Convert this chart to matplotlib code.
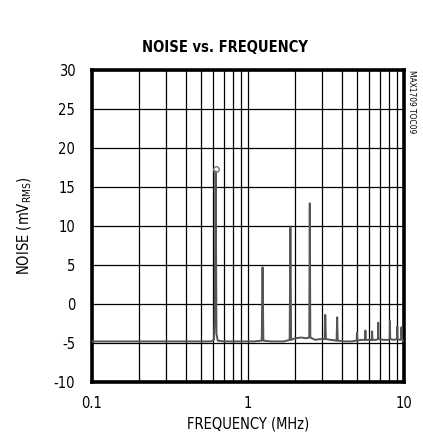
import matplotlib
matplotlib.use('Agg')
import matplotlib.pyplot as plt
from matplotlib.ticker import FixedLocator, NullFormatter
import numpy as np

plt.rcParams['font.family'] = ['Liberation Sans Narrow', 'DejaVu Sans']
plt.rcParams['font.stretch'] = 'condensed'
plt.rcParams['axes.unicode_minus'] = False
plt.rcParams['mathtext.fontset'] = 'custom'
plt.rcParams['mathtext.rm'] = 'DejaVu Sans:stretch=condensed'

# frequency (MHz) and noise (mVrms)
freq = [0.1, 0.2, 0.4, 0.58, 0.605, 0.612, 0.617, 0.62, 0.623, 0.628, 0.64, 0.7,
        0.9, 1.1, 1.225, 1.24, 1.255, 1.4, 1.7, 1.85, 1.87, 1.89, 2.0, 2.2,
        2.35, 2.47, 2.49, 2.51, 2.7, 2.9, 3.1, 3.13, 3.16, 3.4, 3.7, 3.73, 3.76,
        4.2, 4.6, 4.97, 5.0, 5.03, 5.3, 5.63, 5.66, 5.69, 6.0, 6.22, 6.25, 6.28,
        6.6, 6.81, 6.84, 6.87, 7.4, 7.9, 8.1, 8.13, 8.16, 8.6, 9.03, 9.06, 9.09,
        9.4, 9.6, 9.63, 9.7, 10.0]
noise = [-4.8, -4.8, -4.8, -4.8, -4.6, -2.0, 10.0, 17.0, 10.0, -3.8, -4.7, -4.8,
         -4.8, -4.8, -4.7, 4.7, -4.7, -4.8, -4.8, -4.6, 9.8, -4.6, -4.4, -4.3,
         -4.4, -4.3, 12.9, -4.3, -4.6, -4.5, -4.5, -1.4, -4.5, -4.6, -4.7, -1.7, -4.7,
         -4.8, -4.8, -4.7, -3.7, -4.7, -4.6, -4.6, -3.4, -4.6, -4.6, -4.6, -3.5, -4.6,
         -4.6, -4.5, -2.4, -4.5, -4.6, -4.6, -4.5, -2.2, -4.5, -4.6, -4.5, -2.9, -4.5,
         -4.6, -4.5, -3.0, -4.6, -4.7]

peak_marker = (0.62, 17.3)

yticks = [30, 25, 20, 15, 10, 5, 0, -5, -10]
xticks = [0.1, 1, 10]
xlabels = ['0.1', '1', '10']

fig = plt.figure(figsize=(4.23, 4.36), dpi=100)
ax = fig.add_axes([0.2175, 0.1239, 0.7375, 0.7155])

ax.plot(freq, noise, color='#555555', lw=1.4, zorder=3)
ax.plot([peak_marker[0]], [peak_marker[1]], 'o', mfc='none', mec='#777777',
        ms=4, mew=1.0, zorder=3)

ax.set_xscale('log')
ax.set_xlim(0.1, 10)
ax.set_ylim(-10, 30)

minor = [m * d for d in (0.1, 1) for m in range(2, 10)]
ax.xaxis.set_major_locator(FixedLocator(xticks))
ax.xaxis.set_minor_locator(FixedLocator(minor))
ax.xaxis.set_minor_formatter(NullFormatter())
ax.set_xticklabels(xlabels)
ax.set_yticks(yticks)

ax.grid(True, which='both', axis='x', color='black', lw=0.9)
ax.grid(True, which='major', axis='y', color='black', lw=0.9)
ax.tick_params(which='both', length=0, labelsize=10.5, pad=10, colors='black')
ax.tick_params(axis='y', pad=12)

for s in ax.spines.values():
    s.set_linewidth(2.6)

ax.set_xlabel('FREQUENCY (MHz)', fontsize=10.5, labelpad=4)
ax.set_ylabel('NOISE (mV$_{\\mathregular{RMS}}$)', fontsize=10.5, labelpad=14)
fig.text(0.532, 0.892, 'NOISE vs. FREQUENCY', fontsize=10.5, fontweight='heavy',
         ha='center', va='center')

fig.text(0.972, 0.84, 'MAX1709 TOC09', rotation=270, fontsize=6,
         ha='center', va='top')

fig.savefig('out.png', dpi=100)
